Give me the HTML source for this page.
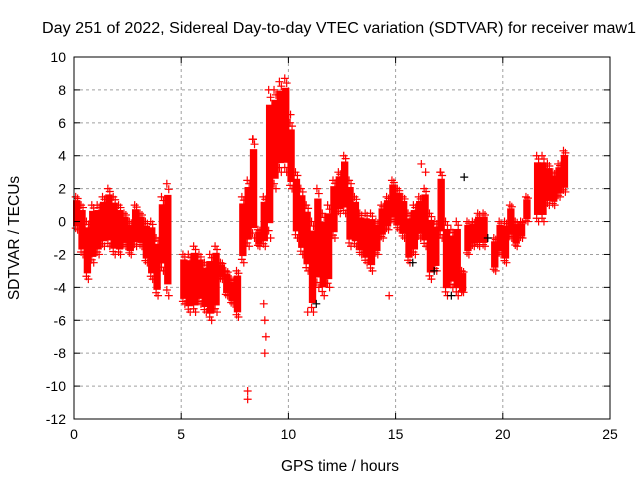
<!DOCTYPE html>
<html><head><meta charset="utf-8"><style>
body{margin:0;background:#fff}
svg{display:block;font-family:"Liberation Sans",sans-serif}
</style></head><body>
<svg id="c" width="640" height="480">
<text x="339" y="33" font-size="15.5" text-anchor="middle" textLength="594" lengthAdjust="spacingAndGlyphs">Day 251 of 2022, Sidereal Day-to-day VTEC variation (SDTVAR) for receiver maw1</text>
<text x="340" y="471" font-size="15.5" text-anchor="middle">GPS time / hours</text>
<text transform="translate(19,238) rotate(-90)" font-size="15.5" text-anchor="middle">SDTVAR / TECUs</text>
<g id="grid"></g><g id="marks"></g><g id="axes"></g>
</svg>
<script>
const binStart=[0,0.25,0.5,0.75,1,1.25,1.5,1.75,2,2.25,2.5,2.75,3,3.25,3.5,3.75,4,4.25,5,5.25,5.5,5.75,6,6.25,6.5,6.75,7,7.25,7.5,7.75,8,8.25,8.5,8.75,9,9.25,9.5,9.75,10,10.25,10.5,10.75,11,11.25,11.5,11.75,12,12.25,12.5,12.75,13,13.25,13.5,13.75,14,14.25,14.5,14.75,15,15.25,15.5,15.75,16,16.25,16.5,16.75,17,17.25,17.5,17.75,18,18.25,18.5,18.75,19,19.5,19.75,20,20.25,20.5,20.75,21,21.5,21.75,22,22.25,22.5,22.75];
const binHigh=[1.5,1,0,1,1,1.5,2,1.5,1,0.5,0,1,0.5,0,0,-1,1.5,2.3,-2,-2,-1.5,-2,-2.5,-2,-1.5,-2.5,-3,-3.5,-3,1.5,2.5,5,-0.5,1.5,8,8,8.5,8.7,6,3,2,1,0,2,0.5,1,2.5,3,4,2.5,1.5,0.5,0.5,0.5,0,1,1.5,2.5,2,1.5,0.5,1,1.5,2,0.5,0,3,0,-0.5,0,-3,0,0,0.5,0.5,-1,0,0,1,0,0,1.5,4,4,3.5,3,3.5,4.3];
const binLow=[-0.5,-2,-3.5,-2.5,-2,-1.5,-1.5,-2,-2,-1.5,-2,-1.5,-1.5,-2.5,-3.5,-4.5,-3,-4.5,-5,-5.5,-5.5,-5,-5.5,-6,-5.5,-3.5,-4.5,-5,-5.8,-2.5,-1.5,-1,-1.5,-1.5,-1,2,3,3,2,-1,-2,-3,-5.5,-4,-4.5,-4,-1,0.5,0.5,-1.5,-1.5,-2,-2.5,-3,-2,-1,-0.5,0,-0.5,-1,-2.5,-2,-1,-1.5,-3.5,-3,-1,-4.5,-4,-4.5,-4.3,-2,-1.5,-1.5,-1.5,-3,-2,-2.5,-1,-1.5,-1,0,0,0,1,1,1.5,1.8];
const outT=[8.9,8.9,8.85,8.95,8.1,8.1,10.9,14.7,16.2,16.4,17.1,18.1,10.1,8.35];
const outV=[-8,-6,-5,-7,-10.3,-10.8,-5.5,-4.5,3.5,3,3,-4.2,6.5,5];
const blkT=[16.8,17.6,18.2,11.3,15.8,19.3];
const blkV=[-3,-4.5,2.7,-5,-2.5,-1];
const xTicks=[0,5,10,15,20,25];
const yTicks=[-12,-10,-8,-6,-4,-2,0,2,4,6,8,10];
const L=74,R=610,T=57,B=419;
const X=t=>L+(t/25)*(R-L), Y=v=>T+(10-v)/22*(B-T);
const NS='http://www.w3.org/2000/svg';
function mk(tag,parent,attrs){const e=document.createElementNS(NS,tag);for(const k in attrs)e.setAttribute(k,attrs[k]);parent.appendChild(e);return e;}
const grid=document.getElementById('grid'),marks=document.getElementById('marks'),axes=document.getElementById('axes');
xTicks.forEach(t=>{
 if(t>0&&t<25){const g=mk('line',grid,{x1:X(t),x2:X(t),y1:T,y2:B,stroke:'#a0a0a0','stroke-dasharray':'3,3'});
 
 }
 const l=mk('text',axes,{x:X(t),y:B+20,'font-size':14,'text-anchor':'middle'});l.textContent=t;
 
 
 mk('line',axes,{x1:X(t),x2:X(t),y1:B,y2:B-6,stroke:'#000'});mk('line',axes,{x1:X(t),x2:X(t),y1:T,y2:T+6,stroke:'#000'});
});
yTicks.forEach(v=>{
 if(v>-12&&v<10){const g=mk('line',grid,{x1:L,x2:R,y1:Y(v),y2:Y(v),stroke:'#a0a0a0','stroke-dasharray':'3,3'});
 
 }
 const l=mk('text',axes,{x:L-8,y:Y(v)+5,'font-size':14,'text-anchor':'end'});l.textContent=v;
 
 
 mk('line',axes,{x1:L,x2:L+6,y1:Y(v),y2:Y(v),stroke:'#000'});mk('line',axes,{x1:R,x2:R-6,y1:Y(v),y2:Y(v),stroke:'#000'});
});
const fr=mk('rect',axes,{x:L,y:T,width:R-L,height:B-T,fill:'none',stroke:'#000'});


function plus(t,v,col){const x=X(t),y=Y(v);
 const p=mk('path',marks,{d:`M${x-4} ${y}H${x+4}M${x} ${y-4}V${y+4}`,stroke:col,'stroke-width':1.2});
 
 }
binStart.forEach((t,i)=>{
 const hi=binHigh[i],lo=binLow[i],span=hi-lo;
 const cHi=hi-span*0.1,cLo=lo+span*0.1;
 const r=mk('rect',marks,{x:X(t)-1,y:Y(cHi),width:X(t+0.25)-X(t)+2,height:Y(cLo)-Y(cHi),fill:'#ff0000'});
 
 
 plus(t+0.08,hi,'#ff0000');plus(t+0.17,lo,'#ff0000');
 plus(t+0.17,hi-span*0.05,'#ff0000');plus(t+0.08,lo+span*0.05,'#ff0000');
});
outT.forEach((t,i)=>plus(t,outV[i],'#ff0000'));
blkT.forEach((t,i)=>plus(t,blkV[i],'#000'));
</script>
</body></html>
